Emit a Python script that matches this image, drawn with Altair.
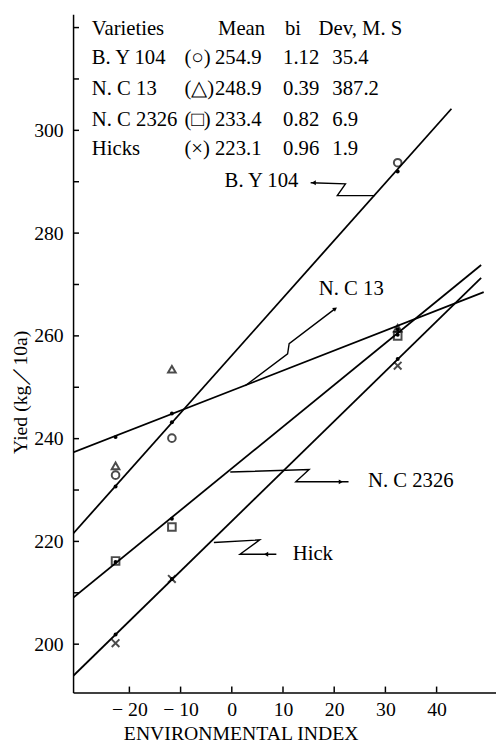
import altair as alt
import pandas as pd

# ---- legend table values ----
varieties = ["B. Y 104", "N. C 13", "N. C 2326", "Hicks"]
symbols = ["(○)", "(△)", "(□)", "(×)"]
means = ["254.9", "248.9", "233.4", "223.1"]
bis = ["1.12", "0.39", "0.82", "0.96"]
devs = ["35.4", "387.2", "6.9", "1.9"]

# ---- observed points (environmental index, yield) ----
env_index = [-22.7, -11.7, 32.4]
obs_by = [232.9, 240.1, 293.7]
obs_nc13 = [234.7, 253.5, 261.5]
obs_nc2326 = [216.2, 222.8, 260.0]
obs_hicks = [200.2, 212.7, 254.2]

# ---- fitted points (small dots on the lines) ----
fit_by = [230.7, 243.2, 292.0]
fit_nc13 = [240.3, 244.9, 261.3]
fit_nc2326 = [216.0, 224.4, 260.2]
fit_hicks = [201.9, 212.7, 255.5]

# ---- regression line end points ----
line_x_start = [-31.0, -31.0, -31.0, -31.0]
line_y_start = [221.5, 237.3, 209.0, 193.8]
line_x_end = [42.9, 49.2, 48.7, 48.7]
line_y_end = [304.2, 268.5, 273.8, 271.3]

# ---- annotation labels and leader lines (data coordinates) ----
ann_text = ["B. Y 104", "N. C 13", "N. C 2326", "Hick"]
ann_x = [13.0, 17.0, 26.6, 11.9]
ann_y = [290.2, 269.1, 231.7, 217.5]
ann_align = ["right", "left", "left", "left"]

lead_by_x = [15.4, 22.2, 20.6, 27.9]
lead_by_y = [289.8, 289.6, 287.3, 287.3]
lead_nc13_x = [2.6, 10.9, 11.2, 20.2]
lead_nc13_y = [250.3, 256.5, 258.5, 265.3]
lead_nc2326_x = [-0.3, 15.1, 12.5, 22.8]
lead_nc2326_y = [233.5, 234.0, 231.6, 231.6]
lead_hick_x = [-3.5, 5.45, 1.6, 8.7]
lead_hick_y = [219.8, 220.3, 217.5, 217.5]

x_ticks = [-20, -10, 0, 10, 20, 30, 40]
y_labels = [200, 220, 240, 260, 280, 300]
y_ticks = [200, 210, 220, 230, 240, 250, 260, 270, 280, 290, 300, 310, 320]

FONT = "Liberation Serif"
W, H = 429, 688
X_DOM = [-31.0, 51.6]
Y_DOM = [190.6, 322.6]

xs = alt.Scale(domain=X_DOM, nice=False, zero=False)
ys = alt.Scale(domain=Y_DOM, nice=False, zero=False)

shape_map = {
    "B. Y 104": "circle",
    "N. C 13": "triangle-up",
    "N. C 2326": "square",
    "Hicks": "M-1,-1L1,1M-1,1L1,-1",
}
rows = []
for name, vals in zip(varieties, [obs_by, obs_nc13, obs_nc2326, obs_hicks]):
    for e, v in zip(env_index, vals):
        rows.append({"variety": name, "x": e, "y": v})
obs_df = pd.DataFrame(rows)

frows = []
for name, vals in zip(varieties, [fit_by, fit_nc13, fit_nc2326, fit_hicks]):
    for e, v in zip(env_index, vals):
        frows.append({"variety": name, "x": e, "y": v})
fit_df = pd.DataFrame(frows)

lrows = []
for i, name in enumerate(varieties):
    lrows.append({"variety": name, "o": 0, "x": line_x_start[i], "y": line_y_start[i]})
    lrows.append({"variety": name, "o": 1, "x": line_x_end[i], "y": line_y_end[i]})
line_df = pd.DataFrame(lrows)

arows = []
for g, (lx, ly) in enumerate([(lead_by_x, lead_by_y), (lead_nc13_x, lead_nc13_y),
                              (lead_nc2326_x, lead_nc2326_y), (lead_hick_x, lead_hick_y)]):
    for k, (a, b) in enumerate(zip(lx, ly)):
        arows.append({"g": g, "o": k, "x": a, "y": b})
lead_df = pd.DataFrame(arows)

head_df = pd.DataFrame({
    "x": [lead_by_x[0] + 0.6, lead_nc13_x[3], lead_nc2326_x[3] - 1.5, lead_hick_x[3] - 2.0],
    "y": [lead_by_y[0], lead_nc13_y[3], lead_nc2326_y[3], lead_hick_y[3]],
    "ang": [270, 54, 90, 270],
})

ann_df = pd.DataFrame({"t": ann_text, "x": ann_x, "y": ann_y, "al": ann_align})

base_x = alt.X("x:Q", scale=xs, axis=alt.Axis(
    values=x_ticks, ticks=False, grid=False, domainColor="black", domainWidth=1.5,
    labelFont=FONT, labelFontSize=20, labelColor="black", labelPadding=7,
    labelExpr="datum.value < 0 ? '− ' + abs(datum.value) : datum.label",
    title="ENVIRONMENTAL INDEX", titleFont=FONT, titleFontSize=20,
    titleFontWeight="normal", titleColor="black", titleX=170, titleY=42,
    titleBaseline="middle"))
base_y = alt.Y("y:Q", scale=ys, axis=alt.Axis(
    values=y_labels, ticks=False, grid=False, domainColor="black", domainWidth=1.5,
    labelFont=FONT, labelFontSize=20, labelColor="black", labelPadding=10,
    title="Yied (kg／10a)", titleFont=FONT, titleFontSize=20, titleFontWeight="normal",
    titleColor="black", titleAngle=270, titleX=-53, titleY=383,
    titleBaseline="middle", titleAlign="center"))

lines = alt.Chart(line_df).mark_line(color="black", strokeWidth=1.8, clip=True).encode(
    x=base_x, y=base_y, detail="variety:N", order="o:Q")

obs = alt.Chart(obs_df).mark_point(color="black", filled=False, strokeWidth=2, size=60).encode(
    x=alt.X("x:Q", scale=xs), y=alt.Y("y:Q", scale=ys),
    shape=alt.Shape("variety:N", scale=alt.Scale(domain=varieties,
                    range=[shape_map[v] for v in varieties]), legend=None))

fits = alt.Chart(fit_df).mark_point(color="black", filled=True, size=16, opacity=1).encode(
    x=alt.X("x:Q", scale=xs), y=alt.Y("y:Q", scale=ys))

leads = alt.Chart(lead_df).mark_line(color="black", strokeWidth=1.4).encode(
    x=alt.X("x:Q", scale=xs), y=alt.Y("y:Q", scale=ys), detail="g:N", order="o:Q")

heads = alt.Chart(head_df).mark_point(shape="triangle-up", filled=True, color="black",
                                      size=24, opacity=1).encode(
    x=alt.X("x:Q", scale=xs), y=alt.Y("y:Q", scale=ys), angle=alt.Angle("ang:Q", scale=None))

ann_left = alt.Chart(ann_df[ann_df.al == "left"]).mark_text(
    font=FONT, fontSize=21, align="left", baseline="middle", color="black").encode(
    x=alt.X("x:Q", scale=xs), y=alt.Y("y:Q", scale=ys), text="t:N")
ann_right = alt.Chart(ann_df[ann_df.al == "right"]).mark_text(
    font=FONT, fontSize=21, align="right", baseline="middle", color="black").encode(
    x=alt.X("x:Q", scale=xs), y=alt.Y("y:Q", scale=ys), text="t:N")

xt = alt.Chart(pd.DataFrame({"x": x_ticks})).mark_rule(color="black", strokeWidth=1.5).encode(
    x=alt.X("x:Q", scale=xs), y=alt.value(H), y2=alt.value(H - 6))
yt = alt.Chart(pd.DataFrame({"y": y_ticks})).mark_rule(color="black", strokeWidth=1.5).encode(
    y=alt.Y("y:Q", scale=ys), x=alt.value(0), x2=alt.value(6))

# legend table (pixel layout inside the plot group)
OX, OY = 74, 9
row_y = [24, 54, 85, 116, 146]
leg = [
    {"t": "Varieties", "x": 93, "y": row_y[0]},
    {"t": "Mean", "x": 221, "y": row_y[0]},
    {"t": "bi", "x": 289, "y": row_y[0]},
    {"t": "Dev, M. S", "x": 323, "y": row_y[0]},
]
for i in range(4):
    yy = row_y[i + 1]
    leg += [
        {"t": varieties[i], "x": 93, "y": yy},
        {"t": symbols[i], "x": 187, "y": yy},
        {"t": means[i], "x": 218, "y": yy},
        {"t": bis[i], "x": 287, "y": yy},
        {"t": devs[i], "x": 337, "y": yy},
    ]
leg_df = pd.DataFrame(leg)
leg_df["px"] = leg_df["x"] - OX
leg_df["py"] = leg_df["y"] - OY
legend = alt.Chart(leg_df).mark_text(font=FONT, fontSize=21, align="left",
                                     baseline="middle", color="black").encode(
    x=alt.X("px:Q", scale=None), y=alt.Y("py:Q", scale=None), text="t:N")

chart = alt.layer(lines, leads, heads, fits, obs, ann_left, ann_right, xt, yt, legend).properties(
    width=W, height=H,
    autosize=alt.AutoSizeParams(type="none"),
    padding={"left": 66, "top": 1, "right": 0, "bottom": 50},
    background="white",
).configure_view(stroke=None)

chart.save("out.html", embed_options={"renderer": "svg", "actions": False})
